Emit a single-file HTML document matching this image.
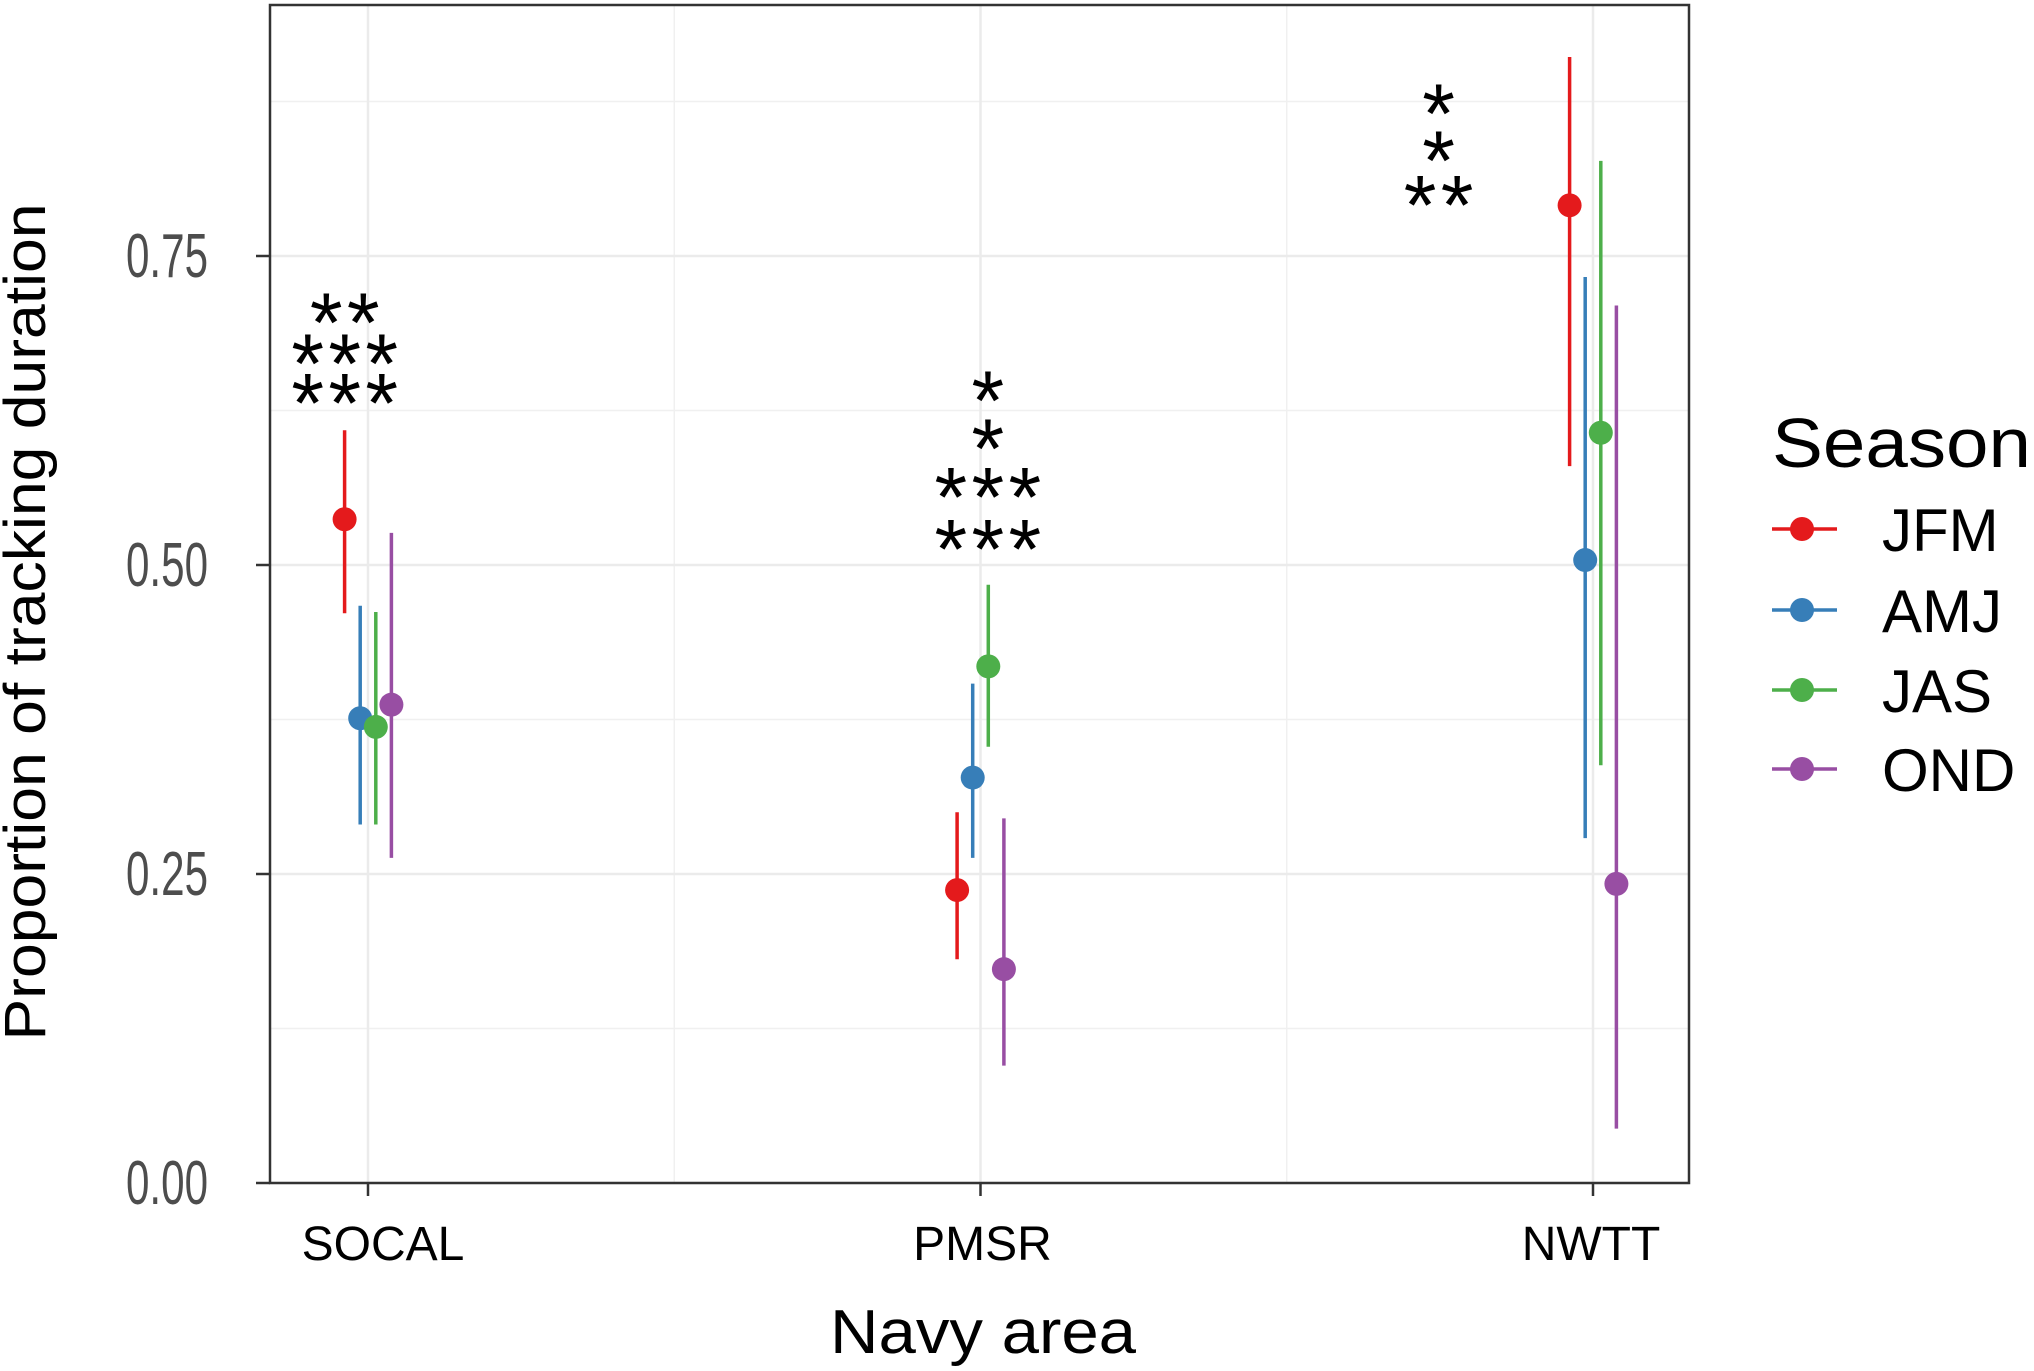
<!DOCTYPE html>
<html><head><meta charset="utf-8"><style>
html,body{margin:0;padding:0;background:#fff;}
svg{display:block;font-family:"Liberation Sans",sans-serif;}
</style></head><body>
<svg id="chart" width="2034" height="1371" viewBox="0 0 2034 1371" xmlns="http://www.w3.org/2000/svg">
<g id="grid"></g>
<g id="marks"></g>
<g id="annot"></g>
<rect x="270" y="5" width="1419" height="1178" fill="none" stroke="#333" stroke-width="2.5"/>
<g id="axes"></g>
<text transform="translate(45,622) rotate(-90)" text-anchor="middle" font-size="58" fill="#000" textLength="837" lengthAdjust="spacingAndGlyphs">Proportion of tracking duration</text>
<text x="983" y="1353" text-anchor="middle" font-size="62" fill="#000" textLength="306" lengthAdjust="spacingAndGlyphs">Navy area</text>
<text x="1772" y="467" font-size="70" fill="#000" textLength="259" lengthAdjust="spacingAndGlyphs">Season</text>
<g id="legend"></g>
</svg>
<script>
const categories = ["SOCAL", "PMSR", "NWTT"];
const seasons = ["JFM", "AMJ", "JAS", "OND"];
const colors = ["#E41A1C", "#377EB8", "#4DAF4A", "#984EA3"];
const estJFM = [0.537, 0.237, 0.791];
const loJFM = [0.461, 0.181, 0.580];
const hiJFM = [0.609, 0.300, 0.911];
const estAMJ = [0.376, 0.328, 0.504];
const loAMJ = [0.290, 0.263, 0.279];
const hiAMJ = [0.467, 0.404, 0.733];
const estJAS = [0.369, 0.418, 0.607];
const loJAS = [0.290, 0.353, 0.338];
const hiJAS = [0.462, 0.484, 0.827];
const estOND = [0.387, 0.173, 0.242];
const loOND = [0.263, 0.095, 0.044];
const hiOND = [0.526, 0.295, 0.710];
const yTicks = [0, 0.25, 0.5, 0.75];
const yTickLabels = ["0.00", "0.25", "0.50", "0.75"];
const yMinor = [0.125, 0.375, 0.625, 0.875];
// significance rows: star counts, row value (y data units), center offset (category units)
const starCounts = [[2, 3, 3], [1, 1, 3, 3], [1, 1, 2]];
const starRowY = [[0.705, 0.672, 0.640], [0.642, 0.603, 0.564, 0.522], [0.874, 0.836, 0.800]];
const starXOff = [-0.038, 0.012, -0.252];

const NS = "http://www.w3.org/2000/svg";
const X0 = 270, X1 = 1689, Y0 = 5, Y1 = 1183;
const y = v => 1183 - v * 1236;
const x = i => 368 + i * 612.5;
const dodge = j => (j - 1.5) * 15.6;
function mk(tag, attrs, parent) { const e = document.createElementNS(NS, tag); for (const k in attrs) e.setAttribute(k, attrs[k]); parent.appendChild(e); return e; }
const grid = document.getElementById('grid'), marks = document.getElementById('marks'), axes = document.getElementById('axes'), annot = document.getElementById('annot'), legend = document.getElementById('legend');

yMinor.forEach(v => { const l = mk('line', {x1: X0, x2: X1, y1: y(v), y2: y(v), stroke: '#f0f0f0', 'stroke-width': 1.5}, grid);
  
   });
[0.5, 1.5].forEach(i => { const l = mk('line', {x1: x(i), x2: x(i), y1: Y0, y2: Y1, stroke: '#f0f0f0', 'stroke-width': 1.5}, grid);
  
   });
yTicks.forEach(v => { const l = mk('line', {x1: X0, x2: X1, y1: y(v), y2: y(v), stroke: '#ebebeb', 'stroke-width': 2.5}, grid);
  
   });
categories.forEach((c, i) => { const l = mk('line', {x1: x(i), x2: x(i), y1: Y0, y2: Y1, stroke: '#ebebeb', 'stroke-width': 2.5}, grid);
  
   });

const series = [[estJFM, loJFM, hiJFM], [estAMJ, loAMJ, hiAMJ], [estJAS, loJAS, hiJAS], [estOND, loOND, hiOND]];
series.forEach((s, j) => {
  categories.forEach((c, i) => {
    const cx = x(i) + dodge(j);
    const l = mk('line', {x1: cx, x2: cx, y1: y(s[1][i]), y2: y(s[2][i]), stroke: colors[j], 'stroke-width': 3.5}, marks);
    
    
    const p = mk('circle', {cx: cx, cy: y(s[0][i]), r: 12, fill: colors[j]}, marks);
    
    
  });
});

starCounts.forEach((rows, i) => {
  rows.forEach((n, k) => {
    for (let m = 0; m < n; m++) {
      const cx = x(i + starXOff[i]) + (m - (n - 1) / 2) * 37;
      const t = mk('text', {x: cx, y: y(starRowY[i][k]) + 40, 'text-anchor': 'middle', 'font-size': 84, fill: '#000'}, annot);
      t.textContent = '*';
      
      
    }
  });
});

yTicks.forEach((v, k) => {
  const tk = mk('line', {x1: 256, x2: X0, y1: y(v), y2: y(v), stroke: '#333', 'stroke-width': 2.5}, axes);
  
  
  const t = mk('text', {x: 208, y: y(v) + 21, 'text-anchor': 'end', 'font-size': 62, fill: '#4d4d4d', textLength: 82, lengthAdjust: 'spacingAndGlyphs'}, axes);
  t.textContent = yTickLabels[k];
  
  
});
const xLabelShift = [15, 2, -2];
categories.forEach((c, i) => {
  const tk = mk('line', {x1: x(i), x2: x(i), y1: Y1, y2: 1196, stroke: '#333', 'stroke-width': 2.5}, axes);
  
  
  const t = mk('text', {x: x(i) + xLabelShift[i], y: 1260, 'text-anchor': 'middle', 'font-size': 48, fill: '#000'}, axes);
  t.textContent = c;
  
  
});

const legY = [529, 610, 690, 769];
seasons.forEach((s, j) => {
  const g = mk('g', {}, legend);
  
  
  mk('line', {x1: 1772, x2: 1837, y1: legY[j], y2: legY[j], stroke: colors[j], 'stroke-width': 3.5}, g);
  mk('circle', {cx: 1802, cy: legY[j], r: 12, fill: colors[j]}, g);
  const t = mk('text', {x: 1882, y: legY[j] + 22, 'font-size': 60, fill: '#000'}, g);
  t.textContent = s;
});
</script>
</body></html>
